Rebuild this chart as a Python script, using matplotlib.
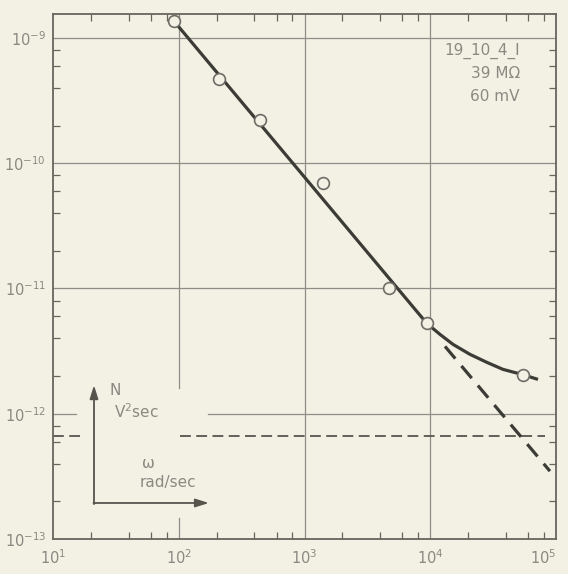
import numpy as np
import matplotlib
matplotlib.use('Agg')
import matplotlib.pyplot as plt

# measured points (open circles)
omega_pts = [92, 209, 443, 1400, 4700, 9400, 54700]
noise_pts = [1.36e-9, 4.71e-10, 2.22e-10, 7.0e-11, 1.0e-11, 5.26e-12, 2.03e-12]

# hand-drawn solid curve
fit_omega = [93, 9400, 11960, 15170, 20700, 28250, 37900, 54700, 71900]
fit_noise = [1.34e-9, 5.26e-12, 4.30e-12, 3.58e-12, 2.98e-12, 2.57e-12, 2.26e-12,
             2.05e-12, 1.88e-12]

# dashed extrapolation of the straight part
ext_omega = [13100, 89500]
ext_noise = [3.45e-12, 3.48e-13]

# dashed horizontal level
floor_level = 6.7e-13
floor_left = [10, 16.4]
floor_right = [102, 81800]

xticks = [1e1, 1e2, 1e3, 1e4, 1e5]
xlabels = [r'$10^{1}$', r'$10^{2}$', r'$10^{3}$', r'$10^{4}$', r'$10^{5}$']
yticks = [1e-13, 1e-12, 1e-11, 1e-10, 1e-9]
ylabels = [r'$10^{-13}$', r'$10^{-12}$', r'$10^{-11}$', r'$10^{-10}$', r'$10^{-9}$']

paper = '#f3f0e4'
ink = '#3c3c36'
grid_c = '#8e8e86'
text_c = '#8a8a82'

fig = plt.figure(figsize=(5.68, 5.74), dpi=100, facecolor=paper)
ax = fig.add_axes([53 / 568, 1 - 539 / 574, 503 / 568, 525 / 574])
ax.set_facecolor(paper)
ax.set_xscale('log')
ax.set_yscale('log')
ax.set_xlim(1e1, 1e5)
ax.set_ylim(1e-13, 10 ** (-9 + 24 / 125.3))

for s in ax.spines.values():
    s.set_color('#66665e')
    s.set_linewidth(1.3)

# grid (broken where the little axis sketch sits)
ax.axvline(1e2, ymin=0.2876, ymax=1, color=grid_c, lw=0.9)
ax.axvline(1e2, ymin=0, ymax=0.04, color=grid_c, lw=0.9)
for xv in [1e3, 1e4]:
    ax.axvline(xv, color=grid_c, lw=0.9)
for yv in [1e-11, 1e-10, 1e-9]:
    ax.axhline(yv, color=grid_c, lw=0.9)
ax.axhline(1e-12, xmin=0, xmax=0.046, color=grid_c, lw=0.9)
ax.axhline(1e-12, xmin=0.308, xmax=1, color=grid_c, lw=0.9)

ax.set_xticks(xticks)
ax.set_xticklabels(xlabels)
ax.set_yticks(yticks)
ax.set_yticklabels(ylabels)
ax.xaxis.set_minor_locator(matplotlib.ticker.LogLocator(base=10, subs=[2, 4, 6, 8]))
ax.yaxis.set_minor_locator(matplotlib.ticker.LogLocator(base=10, subs=[2, 4, 6, 8]))
ax.xaxis.set_minor_formatter(matplotlib.ticker.NullFormatter())
ax.yaxis.set_minor_formatter(matplotlib.ticker.NullFormatter())
ax.tick_params(which='major', length=0, labelsize=10.5, labelcolor=text_c)
ax.tick_params(axis='y', which='major', pad=5)
ax.tick_params(axis='x', which='major', pad=7)
ax.tick_params(which='minor', direction='in', length=5, width=0.9, color='#66665e',
               top=True, right=True)
ax.get_xticklabels()[-1].set_horizontalalignment('right')

# curves
ax.plot(fit_omega, fit_noise, color=ink, lw=2.3, solid_capstyle='butt',
        solid_joinstyle='round', zorder=3)
ax.plot(ext_omega, ext_noise, color=ink, lw=2.3, ls=(0, (5, 3)), zorder=3)
ax.plot(floor_left, [floor_level] * 2, color='#55554e', lw=1.3, ls=(0, (6, 3)))
ax.plot(floor_right, [floor_level] * 2, color='#55554e', lw=1.3, ls=(0, (6, 3)))
ax.plot(omega_pts, noise_pts, 'o', ms=8.5, mfc=paper, mec='#6e6e66', mew=1.2, zorder=4)

# notes top right
ax.text(0.928, 0.93, '19_10_4_I', transform=ax.transAxes, ha='right', va='center',
        fontsize=11, color=text_c)
ax.text(0.928, 0.886, '39 M\u03a9', transform=ax.transAxes, ha='right', va='center',
        fontsize=11, color=text_c)
ax.text(0.928, 0.842, '60 mV', transform=ax.transAxes, ha='right', va='center',
        fontsize=11, color=text_c)

# axis sketch bottom left
ax.annotate('', xy=(0.0815, 0.293), xytext=(0.0815, 0.0665), xycoords='axes fraction',
            arrowprops=dict(arrowstyle='-|>,head_length=0.8,head_width=0.25',
                            color='#55554e', lw=1.3, shrinkA=0, shrinkB=0))
ax.annotate('', xy=(0.31, 0.0686), xytext=(0.0805, 0.0686), xycoords='axes fraction',
            arrowprops=dict(arrowstyle='-|>,head_length=0.8,head_width=0.25',
                            color='#55554e', lw=1.3, shrinkA=0, shrinkB=0))
ax.text(0.113, 0.283, 'N', transform=ax.transAxes, ha='left', va='center',
        fontsize=11, color=text_c)
ax.text(0.121, 0.243, r'V$^{2}$sec', transform=ax.transAxes, ha='left', va='center',
        fontsize=11, color=text_c)
ax.text(0.19, 0.143, '\u03c9', transform=ax.transAxes, ha='center', va='center',
        fontsize=11, color=text_c)
ax.text(0.228, 0.107, 'rad/sec', transform=ax.transAxes, ha='center', va='center',
        fontsize=11, color=text_c)

fig.savefig('out.png', dpi=100, facecolor=paper)
